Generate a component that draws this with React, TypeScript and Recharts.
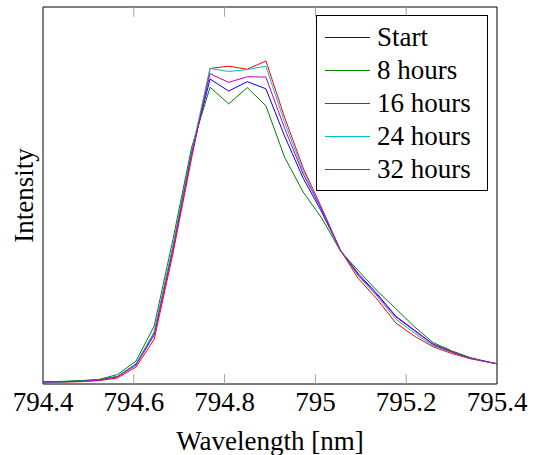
import { Legend, Line, LineChart, ReferenceArea, ReferenceLine, XAxis, YAxis } from "recharts";

// Wavelength samples in nm. The last one lies past 795.4 and is clipped.
const wavelength = [
  794.4, 794.441, 794.482, 794.523, 794.564, 794.605, 794.645, 794.686, 794.727, 794.768,
  794.809, 794.85, 794.891, 794.932, 794.973, 795.014, 795.055, 795.095, 795.136, 795.177,
  795.218, 795.259, 795.3, 795.341, 795.382, 795.423,
];

// Intensity, arbitrary units (the reference has no y ticks)
const start = [5, 6, 8, 11, 20, 53, 135, 361, 613, 809, 777, 802, 783, 658, 546, 456, 355, 292, 239, 180, 143, 106, 86, 69, 58, 48];
const hours8 = [6, 7, 9, 12, 25, 61, 154, 382, 626, 787, 743, 786, 738, 602, 509, 440, 353, 300, 247, 200, 152, 110, 88, 70, 58, 48];
const hours16 = [3, 5, 6, 9, 16, 45, 119, 345, 597, 837, 843, 835, 857, 708, 573, 467, 355, 279, 225, 162, 127, 99, 81, 67, 58, 48];
const hours24 = [4, 5, 7, 10, 20, 54, 138, 363, 615, 837, 829, 834, 843, 695, 565, 464, 355, 286, 233, 172, 135, 102, 84, 68, 58, 48];
const hours32 = [5, 6, 7, 10, 19, 50, 130, 355, 607, 823, 800, 815, 814, 679, 557, 462, 355, 289, 236, 178, 141, 105, 85, 68, 58, 48];

const xTicks = [794.4, 794.6, 794.8, 795, 795.2, 795.4];
const innerTicks = [794.6, 794.8, 795, 795.2];
const xDomain = [794.4, 795.4];
const yDomain = [0, 1000];
const tickLen = 26; // inward tick length in y units

const series = [
  { key: "start", name: "Start", color: "#0000ff" },
  { key: "h8", name: "8 hours", color: "#008000" },
  { key: "h16", name: "16 hours", color: "#ff0000" },
  { key: "h24", name: "24 hours", color: "#00bfbf" },
  { key: "h32", name: "32 hours", color: "#bf00bf" },
];

const data = wavelength.map((x, i) => ({
  x,
  start: start[i],
  h8: hours8[i],
  h16: hours16[i],
  h24: hours24[i],
  h32: hours32[i],
}));

const SERIF = '"Liberation Serif", "Tinos", "Times New Roman"';
const textStyle = { fontFamily: SERIF, fontSize: 27 };

function LegendBox() {
  return (
    <div
      style={{
        boxSizing: "border-box",
        width: 172,
        height: 176,
        border: "1px solid #000",
        background: "#fff",
        padding: "5px 0 5px 8px",
        color: "#000",
        ...textStyle,
      }}
    >
      {series.map((s) => (
        <div key={s.key} style={{ display: "flex", alignItems: "center", height: 33 }}>
          <div style={{ width: 45, height: 1, background: s.color }} />
          <span style={{ marginLeft: 7, lineHeight: "33px" }}>{s.name}</span>
        </div>
      ))}
    </div>
  );
}

function YLabel({ viewBox }: any) {
  const x = viewBox.x + 20;
  const y = viewBox.y + viewBox.height / 2;
  return (
    <text x={x} y={y} transform={`rotate(-90, ${x}, ${y})`} textAnchor="middle" fill="#000" style={textStyle}>
      Intensity
    </text>
  );
}

function XTick({ x, y, payload }: any) {
  return (
    <text x={x} y={y} dy={19} textAnchor="middle" fill="#000" style={textStyle}>
      {payload.value}
    </text>
  );
}

function XLabel({ viewBox }: any) {
  return (
    <text
      x={viewBox.x + viewBox.width / 2}
      y={viewBox.y + viewBox.height - 5}
      textAnchor="middle"
      fill="#000"
      style={textStyle}
    >
      Wavelength [nm]
    </text>
  );
}

export default function App() {
  return (
    <div style={{ position: "absolute", left: 0, top: 0, width: 535, height: 455, background: "#fff" }}>
      <LineChart width={535} height={455} data={data} margin={{ top: 7, right: 38, bottom: 0, left: 13 }}>
        <XAxis
          dataKey="x"
          type="number"
          domain={xDomain}
          allowDataOverflow
          ticks={xTicks}
          interval={0}
          height={71}
          tickSize={0}
          tickMargin={8}
          axisLine={false}
          tickLine={false}
          tick={<XTick />}
          label={<XLabel />}
        />
        <YAxis
          type="number"
          domain={yDomain}
          allowDataOverflow
          width={30}
          tick={false}
          tickLine={false}
          axisLine={false}
          label={<YLabel />}
        />
        {innerTicks.map((t) => (
          <ReferenceLine
            key={`b${t}`}
            segment={[{ x: t, y: yDomain[0] }, { x: t, y: yDomain[0] + tickLen }]}
            stroke="#a0a0a0"
            strokeWidth={1}
            ifOverflow="visible"
          />
        ))}
        {innerTicks.map((t) => (
          <ReferenceLine
            key={`t${t}`}
            segment={[{ x: t, y: yDomain[1] }, { x: t, y: yDomain[1] - tickLen }]}
            stroke="#a0a0a0"
            strokeWidth={1}
            ifOverflow="visible"
          />
        ))}
        {series.map((s) => (
          <Line
            key={s.key}
            type="linear"
            dataKey={s.key}
            name={s.name}
            stroke={s.color}
            strokeWidth={1}
            dot={false}
            activeDot={false}
            isAnimationActive={false}
          />
        ))}
        <ReferenceArea
          x1={xDomain[0]}
          x2={xDomain[1]}
          y1={yDomain[0]}
          y2={yDomain[1]}
          fill="none"
          stroke="#000"
          strokeWidth={1}
          ifOverflow="visible"
        />
        <Legend
          layout="vertical"
          align="center"
          verticalAlign="middle"
          content={<LegendBox />}
          wrapperStyle={{ left: 316, top: 15, width: 172, height: 176 }}
        />
      </LineChart>
    </div>
  );
}
